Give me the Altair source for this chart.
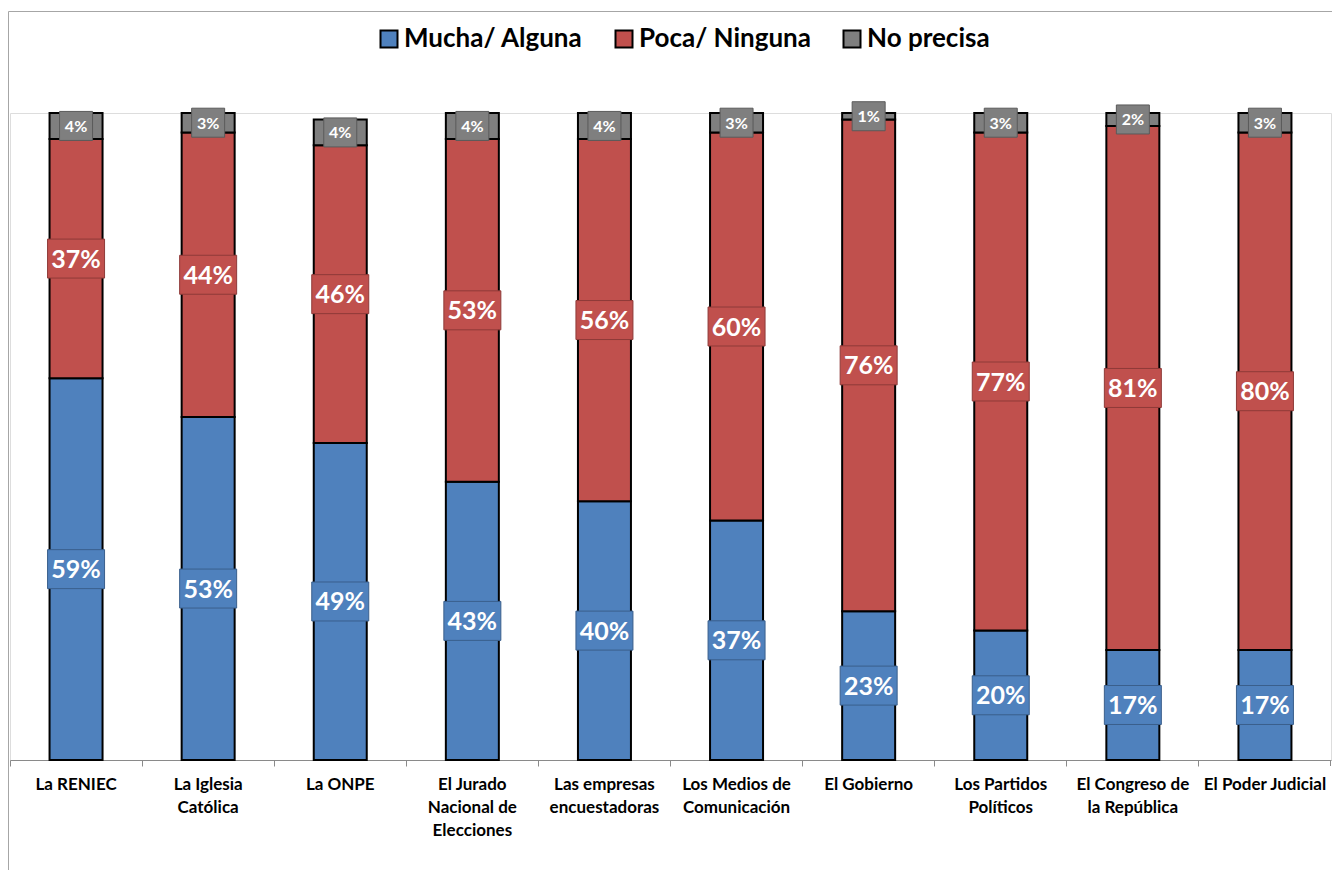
import altair as alt
import pandas as pd

categorias = [
    "La RENIEC",
    "La Iglesia\nCatólica",
    "La ONPE",
    "El Jurado\nNacional de\nElecciones",
    "Las empresas\nencuestadoras",
    "Los Medios de\nComunicación",
    "El Gobierno",
    "Los Partidos\nPolíticos",
    "El Congreso de\nla República",
    "El Poder Judicial",
]
series = ["Mucha/ Alguna", "Poca/ Ninguna", "No precisa"]
mucha = [59, 53, 49, 43, 40, 37, 23, 20, 17, 17]
poca = [37, 44, 46, 53, 56, 60, 76, 77, 81, 80]
no_precisa = [4, 3, 4, 4, 4, 3, 1, 3, 2, 3]

colores = ["#4F81BD", "#C0504D", "#7F7F7F"]
bordes = ["#3A5F8C", "#8E3A38", "#5A5A5A"]

rows = []
for i, c in enumerate(categorias):
    base = 0
    for j, (s, vals) in enumerate(zip(series, [mucha, poca, no_precisa])):
        v = vals[i]
        rows.append({
            "cat": c, "serie": s, "val": v, "orden": j,
            "lo": base, "hi": base + v, "mid": base + v / 2,
            "label": f"{v}%",
        })
        base += v
df = pd.DataFrame(rows)

W, H = 1321, 647
xenc = alt.X("cat:N", sort=categorias, scale=alt.Scale(paddingInner=0, paddingOuter=0),
             axis=alt.Axis(title=None, labelAngle=0, labelFont="Lato", labelFontWeight="bold",
                           labelFontSize=17, labelColor="black", labelLineHeight=23,
                           labelPadding=10, tickSize=6, tickColor="#8a8a8a", domainColor="#8a8a8a",
                           bandPosition=0, grid=False, labelOverlap=False, labelLimit=300,
                           labelExpr="split(datum.label, '\\n')"))
yscale = alt.Scale(domain=[0, 100], nice=False, zero=True)

bars = alt.Chart(df).mark_bar(size=53, stroke="black", strokeWidth=2).encode(
    x=xenc,
    y=alt.Y("lo:Q", scale=yscale, axis=None),
    y2="hi:Q",
    color=alt.Color("serie:N", scale=alt.Scale(domain=series, range=colores),
                    sort=series,
                    legend=alt.Legend(orient="none", legendX=366, legendY=-87,
                                      direction="horizontal", title=None,
                                      symbolType="square", symbolSize=289,
                                      symbolStrokeColor="black", symbolStrokeWidth=2,
                                      labelFont="Lato", labelFontWeight="bold",
                                      labelFontSize=26, labelColor="black", labelLimit=500,
                                      columnPadding=28, labelOffset=2, padding=0)),
)

big = df[df["serie"] != "No precisa"]
small = df[df["serie"] == "No precisa"]

box_big = alt.Chart(big).mark_point(
    shape="M-1,-0.684L1,-0.684L1,0.684L-1,0.684Z", size=3249, filled=True,
    opacity=1, strokeWidth=1).encode(
    x=alt.X("cat:N", sort=categorias),
    y=alt.Y("mid:Q", scale=yscale),
    fill=alt.Fill("serie:N", scale=alt.Scale(domain=series, range=colores), legend=None),
    stroke=alt.Stroke("serie:N", scale=alt.Scale(domain=series, range=bordes), legend=None),
)
box_small = alt.Chart(small).mark_point(
    shape="M-1,-0.879L1,-0.879L1,0.879L-1,0.879Z", size=1089, filled=True,
    opacity=1, strokeWidth=1).encode(
    x=alt.X("cat:N", sort=categorias),
    y=alt.Y("mid:Q", scale=yscale),
    fill=alt.Fill("serie:N", scale=alt.Scale(domain=series, range=colores), legend=None),
    stroke=alt.Stroke("serie:N", scale=alt.Scale(domain=series, range=bordes), legend=None),
)
text_big = alt.Chart(big).mark_text(font="Lato", fontWeight="bold", fontSize=25,
                                    color="white", baseline="middle", align="center", dy=1).encode(
    x=alt.X("cat:N", sort=categorias),
    y=alt.Y("mid:Q", scale=yscale),
    text="label:N",
)
text_small = alt.Chart(small).mark_text(font="Lato", fontWeight="bold", fontSize=16,
                                        color="white", baseline="middle", align="center", dy=1).encode(
    x=alt.X("cat:N", sort=categorias),
    y=alt.Y("mid:Q", scale=yscale),
    text="label:N",
)

deco = alt.Data(values=[{"k": 1}])
frame_top = alt.Chart(deco).mark_rule(color="#a6a6a6", strokeWidth=1).encode(
    x=alt.value(-1.5), x2=alt.value(W + 1), y=alt.value(-101.5))
frame_left = alt.Chart(deco).mark_rule(color="#a6a6a6", strokeWidth=1).encode(
    x=alt.value(-1.5), y=alt.value(-101.5), y2=alt.value(H + 110))
endtick = alt.Chart(deco).mark_rule(color="#8a8a8a", strokeWidth=1).encode(
    x=alt.value(W - 0.5), y=alt.value(H), y2=alt.value(H + 6))

chart = alt.layer(frame_top, frame_left, bars, box_big, box_small, text_big, text_small,
                  endtick).resolve_scale(
    fill="independent", stroke="independent"
).properties(
    width=W, height=H,
    autosize=alt.AutoSizeParams(type="none"),
    padding={"left": 2, "top": 105, "right": 1, "bottom": 110},
).configure_view(stroke=None).configure(background="white")

chart.save("out.html", embed_options={"renderer": "svg", "actions": False})
